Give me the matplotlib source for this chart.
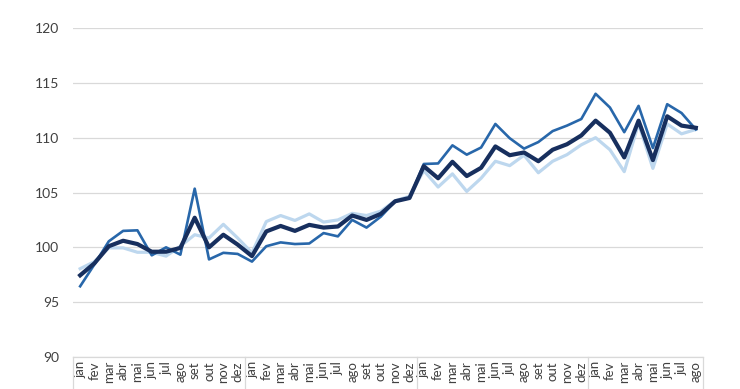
import matplotlib
matplotlib.use("Agg")
import matplotlib.pyplot as plt
import matplotlib.transforms as mtransforms
import numpy as np

months = ["jan", "fev", "mar", "abr", "mai", "jun", "jul", "ago", "set", "out", "nov", "dez"]
labels = months * 3 + months[:8]

# thick dark series
serie_total = [97.45, 98.55, 100.1, 100.6, 100.3, 99.6, 99.6, 99.95, 102.7, 100.0,
               101.15, 100.25, 99.2, 101.45, 101.95, 101.5, 102.05, 101.8, 101.9, 102.9,
               102.5, 103.05, 104.2, 104.5, 107.4, 106.3, 107.8, 106.5, 107.25, 109.2,
               108.4, 108.65, 107.85, 108.9, 109.4, 110.2, 111.55, 110.45, 108.2, 111.55,
               107.95, 111.95, 111.1, 110.9]
# medium blue series
serie_a = [96.45, 98.45, 100.55, 101.5, 101.55, 99.27, 100.0, 99.33, 105.35, 98.9,
           99.5, 99.4, 98.7, 100.1, 100.45, 100.3, 100.35, 101.3, 101.0, 102.5,
           101.8, 102.8, 104.2, 104.5, 107.6, 107.65, 109.3, 108.45, 109.1, 111.25,
           109.95, 109.0, 109.6, 110.6, 111.1, 111.7, 114.0, 112.75, 110.5, 112.9,
           109.05, 113.05, 112.25, 110.75]
# light blue series
serie_b = [98.05, 98.7, 99.95, 99.95, 99.55, 99.55, 99.2, 100.1, 101.15, 100.85,
           102.1, 100.85, 99.5, 102.35, 102.9, 102.45, 103.05, 102.3, 102.5, 103.1,
           102.9, 103.3, 104.25, 104.65, 107.0, 105.5, 106.7, 105.1, 106.3, 107.85,
           107.45, 108.4, 106.8, 107.85, 108.45, 109.35, 110.0, 108.9, 106.9, 111.3,
           107.2, 111.25, 110.35, 110.75]

x = np.arange(len(labels))

fig = plt.figure(figsize=(7.4, 3.89), dpi=100)
ax = fig.add_axes([73 / 740, 1 - 357 / 389, 630 / 740, 329 / 389])

ax.plot(x, serie_b, color="#bdd7ee", lw=2.3, zorder=3)
ax.plot(x, serie_a, color="#2867aa", lw=1.9, zorder=4)
ax.plot(x, serie_total, color="#172f5e", lw=3.0, zorder=5)

ax.set_ylim(90, 120)
ax.set_yticks(np.arange(90, 121, 5))
ax.set_xlim(-0.5, len(labels) - 0.5)
ax.set_xticks(x)
ax.set_xticklabels(labels, rotation=90, fontsize=9.5, color="#404040", family="Lato")
ax.tick_params(axis="both", length=0)
ax.tick_params(axis="x", pad=3)
ax.tick_params(axis="y", pad=10, labelsize=10, labelcolor="#404040")
for t in ax.get_yticklabels():
    t.set_family("Lato")

ax.grid(axis="y", color="#d9d9d9", lw=0.9)
ax.set_axisbelow(True)
for s in ["top", "right", "left"]:
    ax.spines[s].set_visible(False)
ax.spines["bottom"].set_color("#d9d9d9")
ax.spines["bottom"].set_linewidth(0.9)

# year separators under the axis
trans = mtransforms.blended_transform_factory(ax.transData, ax.transAxes)
for b in [-0.5, 11.5, 23.5, 35.5, len(labels) - 0.5]:
    ax.plot([b, b], [0, -0.12], transform=trans, color="#d9d9d9", lw=0.9, clip_on=False)

fig.savefig("out.png", dpi=100)
